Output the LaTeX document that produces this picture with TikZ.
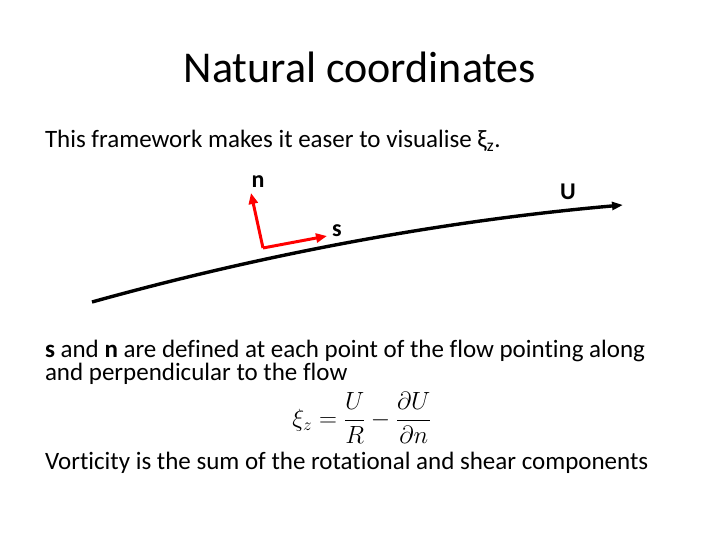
\documentclass[tikz,border=0pt]{standalone}
\usepackage{fontspec}
\setmainfont{Carlito}[Ligatures=NoCommon]
\usetikzlibrary{positioning,arrows.meta}

\begin{document}
\begin{tikzpicture}[
    x=1pt, y=-1pt,
    every node/.style={inner sep=0pt, outer sep=0pt},
    body/.style={anchor=base west, font=\fontsize{25}{27}\selectfont},
    lbl/.style={font=\fontsize{24}{26}\selectfont\bfseries},
    flow/.style={line width=3.4pt, -{Triangle[length=11pt,width=8pt]}},
    axis/.style={draw=red, line width=3pt, -{Triangle[length=11pt,width=9pt]}}
  ]
    \useasboundingbox (0,0) rectangle (720,540);

    \node[anchor=base, font=\fontsize{44}{48}\selectfont] (title) at (360,83) {Natural coordinates};
    \node[body] (intro) at (45,148) {This framework makes it easer to visualise ξ\textsubscript{z}.};

    % streamline
    \coordinate (start) at (92,302);
    \coordinate (tip) at (623,205);
    \draw[flow] (start) .. controls (250,258) and (430,222) .. (tip);
    \node[lbl] (U) at (568,192) {U};

    % s and n
    \coordinate (corner) at (263,248);
    \coordinate (ntip) at (251,193);
    \coordinate (stip) at (327,236);
    \draw[axis] (corner) -- (ntip);
    \draw[axis] (corner) -- (stip);
    \node[lbl] (n) at (258,182) {n};
    \node[lbl] (s) at (337,231) {s};

    \node[body] (def1) at (45,357) {\textbf{s} and \textbf{n} are defined at each point of the flow pointing along};
    \node[body] (def2) at (45,380) {and perpendicular to the flow};
    \node[font=\fontsize{23}{25}\selectfont] (eq) at (362,418) {$\displaystyle \xi_z=\frac{U}{R}-\frac{\partial U}{\partial n}$};
    \node[body] (vort) at (45,469) {Vorticity is the sum of the rotational and shear components};
  \end{tikzpicture}
\end{document}
